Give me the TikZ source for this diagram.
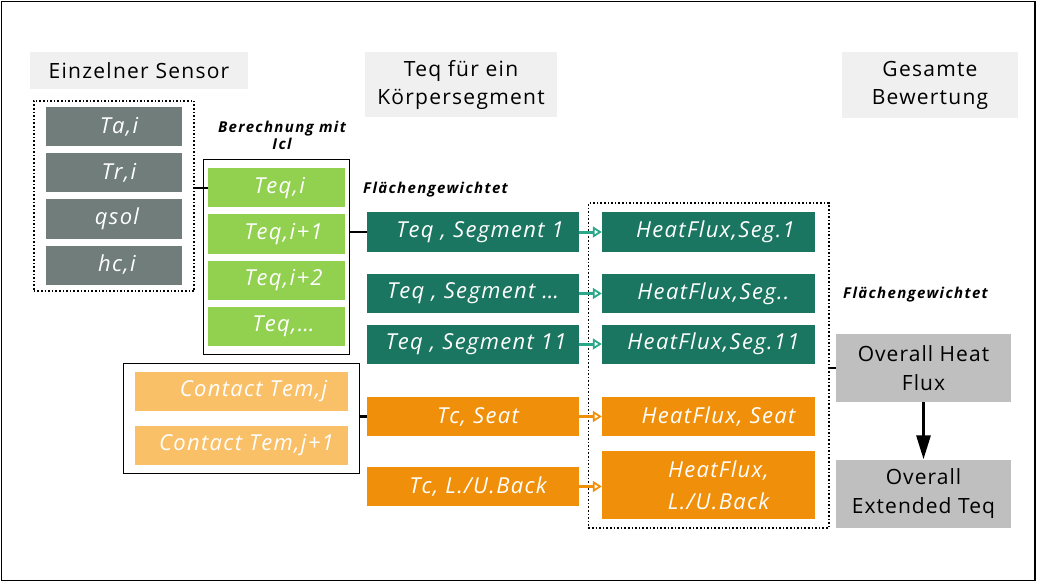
\documentclass[tikz,border=0pt]{standalone}
\usepackage{fontspec}
\setmainfont{Open Sans}
\usetikzlibrary{arrows.meta,fit}

\definecolor{sensgray}{RGB}{112,125,123}
\definecolor{teqgreen}{RGB}{146,208,80}
\definecolor{seggreen}{RGB}{26,118,96}
\definecolor{arrowteal}{RGB}{42,168,138}
\definecolor{tcorange}{RGB}{240,144,10}
\definecolor{lightorange}{RGB}{249,192,104}
\definecolor{headgray}{RGB}{240,240,240}
\definecolor{sumgray}{RGB}{191,191,191}

\begin{document}
\begin{tikzpicture}[x=1pt,y=-1pt,
  head node/.style={fill=headgray,inner sep=0pt,align=center,font=\fontsize{21}{28}\selectfont\addfontfeature{LetterSpace=6}},
  box node/.style={inner sep=0pt,minimum height=39pt,text=white,align=center,font=\fontsize{22}{32}\selectfont\itshape\addfontfeature{LetterSpace=6}},
  sensor node/.style={box node,fill=sensgray,minimum width=136pt},
  teq node/.style={box node,fill=teqgreen,minimum width=137pt},
  seg node/.style={box node,fill=seggreen,minimum width=212pt},
  tc node/.style={box node,fill=tcorange,minimum width=212pt},
  contact node/.style={box node,fill=lightorange,minimum width=213pt},
  sum node/.style={fill=sumgray,inner sep=0pt,minimum width=175pt,minimum height=68pt,align=center,font=\fontsize{21}{29}\selectfont\addfontfeature{LetterSpace=5}},
  note node/.style={inner sep=0pt,align=center,font=\fontsize{15}{17}\selectfont\bfseries\itshape\addfontfeature{LetterSpace=9}},
  link/.style={line width=2.5pt},
  teal arrow/.style={draw=arrowteal,line width=3pt,-{Triangle[open,length=9pt,width=11pt,line width=1.8pt]}},
  orange arrow/.style={draw=tcorange,line width=3pt,-{Triangle[open,length=9pt,width=11pt,line width=1.8pt]}}]

  \useasboundingbox (0,0) rectangle (1037,583);
  \draw[line width=1.2pt] (1.5,1.5) rectangle (1035,580.5);

  % column headers
  \node[head node,minimum width=218pt,minimum height=37pt] (h1) at (139,70.5) {Einzelner Sensor};
  \node[head node,minimum width=192pt,minimum height=65pt] (h2) at (461,84.5) {Teq für ein\\Körpersegment};
  \node[head node,minimum width=176pt,minimum height=66pt] (h3) at (930,85) {Gesamte\\Bewertung};

  % single sensor values
  \node[sensor node] (ta) at (114,127) {\hspace*{10pt}Ta,i};
  \node[sensor node] (tr) at (114,173) {\hspace*{10pt}Tr,i};
  \node[sensor node] (qs) at (114,219) {\hspace*{6pt}qsol};
  \node[sensor node] (hc) at (114,265) {\hspace*{6pt}hc,i};
  \node[draw,dotted,line width=1.6pt,inner xsep=12pt,inner ysep=6.5pt,fit=(ta)(hc)] (sens) {};

  % Teq per sensor
  \node[note node] (calc) at (282,135) {Berechnung mit\\Icl};
  \node[teq node] (t1) at (276.5,188) {\hspace*{6pt}Teq,i};
  \node[teq node] (t2) at (276.5,234) {\hspace*{14pt}Teq,i+1};
  \node[teq node] (t3) at (276.5,280) {\hspace*{14pt}Teq,i+2};
  \node[teq node] (t4) at (276.5,326) {\hspace*{14pt}Teq,\dots};
  \node[draw,line width=0.8pt,inner xsep=4.5pt,inner ysep=8.5pt,fit=(t1)(t4)] (grn) {};

  % contact temperatures
  \node[contact node] (c1) at (241.5,391.5) {\hspace*{24pt}Contact Tem,j};
  \node[contact node] (c2) at (241.5,445.5) {\hspace*{10pt}Contact Tem,j+1};
  \node[draw,line width=0.8pt,inner xsep=11pt,inner ysep=8.5pt,fit=(c1)(c2)] (ora) {};

  % segments
  \node[note node,anchor=west] (fg1) at (363,190) {Flächengewichtet};
  \node[seg node] (s1) at (473,232) {\hspace*{14pt}Teq , Segment 1};
  \node[seg node] (s2) at (473,293.5) {Teq , Segment \dots};
  \node[seg node] (s3) at (473,344) {\hspace*{6pt}Teq , Segment 11};
  \node[tc node] (tcs) at (473,416.5) {\hspace*{10pt}Tc, Seat};
  \node[tc node] (tcb) at (473,486.5) {\hspace*{10pt}Tc, L./U.Back};

  % heat flux per segment
  \node[seg node,minimum width=213pt] (f1) at (708.5,232) {\hspace*{14pt}HeatFlux,Seg.1};
  \node[seg node,minimum width=213pt] (f2) at (708.5,293.5) {\hspace*{10pt}HeatFlux,Seg..};
  \node[seg node,minimum width=213pt] (f3) at (708.5,344) {\hspace*{10pt}HeatFlux,Seg.11};
  \node[tc node,minimum width=213pt] (fs) at (708.5,416.5) {\hspace*{20pt}HeatFlux, Seat};
  \node[tc node,minimum width=213pt,minimum height=68pt] (fb) at (708.5,485) {\hspace*{20pt}HeatFlux,\\\hspace*{20pt}L./U.Back};
  \node[draw,dotted,line width=1.6pt,inner xsep=13.5pt,inner ysep=9pt,fit=(f1)(fb)] (flux) {};

  % overall
  \node[note node,anchor=west] (fg2) at (843,295) {Flächengewichtet};
  \node[sum node] (ohf) at (923.5,368) {Overall Heat\\Flux};
  \node[sum node] (oet) at (923.5,493.5) {Overall\\Extended Teq};

  \draw[link] (t1.west -| sens.east) -- (t1.west);
  \draw[link] (s1.west -| grn.east) -- (s1.west);
  \draw[link] (tcs.west -| ora.east) -- (tcs.west);
  \draw[link] (ohf.west -| flux.east) -- (ohf.west);

  \draw[teal arrow] (s1) -- (f1);
  \draw[teal arrow] (s2) -- (f2);
  \draw[teal arrow] (s3) -- (f3);
  \draw[orange arrow] (tcs) -- (fs);
  \draw[orange arrow] (tcb.east) -- (tcb.east -| fb.west);

  \draw[line width=3pt,-{Triangle[length=24pt,width=14pt]}] (ohf) -- (oet);
\end{tikzpicture}
\end{document}
